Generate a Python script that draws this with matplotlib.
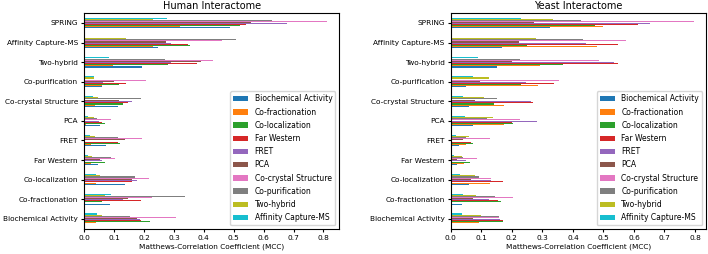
import pandas as pd
import matplotlib.pyplot as plt

plt.rcParams['font.size'] = 5.3
plt.rcParams['axes.titlesize'] = 7.0
plt.rcParams['legend.fontsize'] = 5.5

categories = ['Biochemical Activity', 'Co-fractionation', 'Co-localization', 'Far Western',
              'FRET', 'PCA', 'Co-crystal Structure', 'Co-purification', 'Two-hybrid',
              'Affinity Capture-MS', 'SPRING']
series = ['Biochemical Activity', 'Co-fractionation', 'Co-localization', 'Far Western',
          'FRET', 'PCA', 'Co-crystal Structure', 'Co-purification', 'Two-hybrid',
          'Affinity Capture-MS']

# Human Interactome (values per category, bottom to top)
human_biochem = [0, 0.086, 0.136, 0.047, 0.074, 0.052, 0.113, 0.06, 0.193, 0.248, 0.488]
human_cofrac = [0.038, 0, 0.038, 0.022, 0.024, 0.005, 0.036, 0.06, 0.096, 0.231, 0.32]
human_coloc = [0.219, 0.06, 0, 0.069, 0.119, 0.071, 0.13, 0.116, 0.279, 0.354, 0.52]
human_farwest = [0.19, 0.191, 0.16, 0, 0.113, 0.06, 0.147, 0.14, 0.377, 0.348, 0.54]
human_fret = [0.186, 0.13, 0.178, 0.06, 0, 0.05, 0.16, 0.062, 0.29, 0.29, 0.677]
human_pca = [0.178, 0.147, 0.158, 0.052, 0.136, 0, 0.117, 0.10, 0.39, 0.273, 0.557]
human_cocryst = [0.306, 0.227, 0.217, 0.104, 0.194, 0.088, 0, 0.207, 0.429, 0.462, 0.812]
human_copur = [0.152, 0.338, 0.17, 0.091, 0.113, 0.041, 0.191, 0, 0.271, 0.507, 0.629]
human_twohyb = [0.06, 0.07, 0.052, 0.027, 0.036, 0.032, 0.047, 0.031, 0, 0.14, 0.231]
human_acms = [0.044, 0.091, 0.038, 0.013, 0.019, 0.013, 0.03, 0.034, 0.084, 0, 0.276]

# Yeast Interactome
yeast_biochem = [0, 0.036, 0.058, 0.019, 0.027, 0.073, 0.058, 0.05, 0.15, 0.169, 0.326]
yeast_cofrac = [0.091, 0, 0.128, 0.044, 0.051, 0.175, 0.175, 0.285, 0.292, 0.479, 0.5]
yeast_coloc = [0.172, 0.164, 0, 0.062, 0.073, 0.205, 0.142, 0.23, 0.366, 0.25, 0.473]
yeast_farwest = [0.172, 0.156, 0.172, 0, 0.066, 0.2, 0.27, 0.337, 0.548, 0.548, 0.614]
yeast_fret = [0.16, 0.126, 0.131, 0.048, 0, 0.282, 0.262, 0.246, 0.534, 0.443, 0.652]
yeast_pca = [0.071, 0.073, 0.066, 0.02, 0.04, 0, 0.08, 0.095, 0.2, 0.222, 0.273]
yeast_cocryst = [0.158, 0.204, 0.131, 0.085, 0.128, 0.227, 0, 0.353, 0.486, 0.574, 0.796]
yeast_copur = [0.158, 0.145, 0.093, 0.04, 0.051, 0.117, 0.151, 0, 0.226, 0.432, 0.426]
yeast_twohyb = [0.098, 0.082, 0.08, 0.038, 0.06, 0.139, 0.109, 0.126, 0, 0.279, 0.336]
yeast_acms = [0.036, 0.04, 0.03, 0.011, 0.016, 0.047, 0.04, 0.074, 0.09, 0, 0.23]

human = pd.DataFrame(dict(zip(series, [human_biochem, human_cofrac, human_coloc, human_farwest,
                                       human_fret, human_pca, human_cocryst, human_copur,
                                       human_twohyb, human_acms])), index=categories)
yeast = pd.DataFrame(dict(zip(series, [yeast_biochem, yeast_cofrac, yeast_coloc, yeast_farwest,
                                       yeast_fret, yeast_pca, yeast_cocryst, yeast_copur,
                                       yeast_twohyb, yeast_acms])), index=categories)

fig, axes = plt.subplots(1, 2, figsize=(7.08, 2.54), dpi=100)
for ax, df, title in zip(axes, [human, yeast], ['Human Interactome', 'Yeast Interactome']):
    df.plot(kind='barh', ax=ax, width=0.55)
    ax.set_title(title, pad=3)
    ax.set_xlabel('Matthews-Correlation Coefficient (MCC)', labelpad=1.5)
    ax.tick_params(length=2.5, pad=2)
    ax.legend(loc='lower right', labelspacing=0.55)

plt.subplots_adjust(left=0.119, right=0.997, bottom=0.098, top=0.95, wspace=0.438)
plt.savefig('out.png')
